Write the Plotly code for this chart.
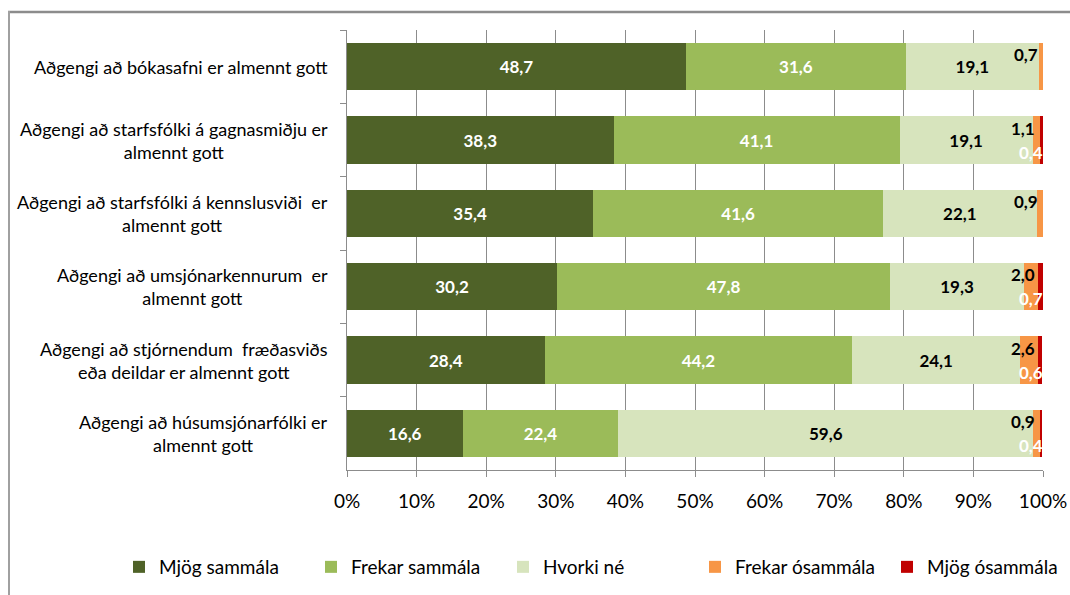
import plotly.graph_objects as go

categories = [
    "Aðgengi að bókasafni er almennt gott",
    "Aðgengi að starfsfólki á gagnasmiðju er<br>almennt gott",
    "Aðgengi að starfsfólki á kennslusviði  er<br>almennt gott",
    "Aðgengi að umsjónarkennurum  er<br>almennt gott",
    "Aðgengi að stjórnendum  fræðasviðs<br>eða deildar er almennt gott",
    "Aðgengi að húsumsjónarfólki er<br>almennt gott",
]
series_names = ["Mjög sammála", "Frekar sammála", "Hvorki né", "Frekar ósammála", "Mjög ósammála"]
mjog_sammala = [48.7, 38.3, 35.4, 30.2, 28.4, 16.6]
frekar_sammala = [31.6, 41.1, 41.6, 47.8, 44.2, 22.4]
hvorki_ne = [19.1, 19.1, 22.1, 19.3, 24.1, 59.6]
frekar_osammala = [0.7, 1.1, 0.9, 2.0, 2.6, 0.9]
mjog_osammala = [0.0, 0.4, 0.0, 0.7, 0.6, 0.4]
x_ticks = [0, 10, 20, 30, 40, 50, 60, 70, 80, 90, 100]
x_tick_labels = [f"{v}%" for v in x_ticks]

colors = ["#4f6228", "#9bbb59", "#d7e4bd", "#f79646", "#c00000"]
text_colors = ["white", "white", "black", "black", "white"]
values = [mjog_sammala, frekar_sammala, hvorki_ne, frekar_osammala, mjog_osammala]

FONT = "Lato"

def fmt(v):
    return f"{v:.1f}".replace(".", ",")

fig = go.Figure()
for i, (name, vals) in enumerate(zip(series_names, values)):
    show_text = i < 3
    fig.add_trace(go.Bar(
        y=categories, x=vals, name=name, orientation="h",
        marker=dict(color=colors[i], line=dict(width=0)),
        text=[f"<b>{fmt(v)}</b>" for v in vals] if show_text else None,
        textposition="inside" if show_text else "none",
        insidetextanchor="middle",
        textangle=0,
        textfont=dict(family=FONT, size=17, color=text_colors[i]),
        hoverinfo="skip",
    ))

annotations = []
for cat, fo, mo in zip(categories, frekar_osammala, mjog_osammala):
    annotations.append(dict(
        x=100, y=cat, xref="x", yref="y", text=f"<b>{fmt(fo)}</b>",
        showarrow=False, xanchor="right", yanchor="middle", yshift=12,
        xshift=-3 if mo == 0 else -6,
        font=dict(family=FONT, size=17, color="black"),
    ))
    if mo > 0:
        annotations.append(dict(
            x=100, y=cat, xref="x", yref="y", text=f"<b>{fmt(mo)}</b>",
            showarrow=False, xanchor="right", yanchor="middle", yshift=-12,
            xshift=2,
            font=dict(family=FONT, size=17, color="white"),
        ))
for cat in categories:
    annotations.append(dict(
        x=0, y=cat, xref="paper", yref="y", text=cat, showarrow=False,
        xanchor="right", yanchor="middle", xshift=-17, align="center",
        font=dict(family=FONT, size=18, color="black"),
    ))

PX_W, PX_H = 696, 440
def px_x(p):
    return (p - 347) / PX_W
def px_y(p):
    return (470 - p) / PX_H

fig.update_layout(
    barmode="stack",
    bargap=0.355,
    width=1070, height=595,
    margin=dict(l=347, r=27, t=30, b=125, autoexpand=False),
    paper_bgcolor="white", plot_bgcolor="white",
    font=dict(family=FONT, size=16, color="black"),
    annotations=annotations,
    legend=dict(
        orientation="h", xref="paper", yref="paper",
        x=px_x(119), xanchor="left", y=px_y(567), yanchor="middle",
        font=dict(family=FONT, size=19, color="black"),
        traceorder="normal", entrywidth=147, itemwidth=30,
    ),
    xaxis=dict(
        range=[0, 100], tickvals=x_ticks, ticktext=x_tick_labels,
        showgrid=True, gridcolor="#8c8c8c", gridwidth=1,
        showline=True, linecolor="#8c8c8c", linewidth=1,
        ticks="outside", ticklen=6, tickcolor="#8c8c8c",
        ticklabelstandoff=8, zeroline=False,
        tickfont=dict(family=FONT, size=19, color="black"),
        fixedrange=True,
    ),
    yaxis=dict(
        autorange="reversed", showticklabels=False,
        showline=True, linecolor="#8c8c8c", linewidth=1,
        ticks="outside", ticklen=6, tickcolor="#8c8c8c", tickson="boundaries",
        showgrid=False, fixedrange=True,
    ),
    shapes=[
        dict(type="line", xref="paper", yref="paper", layer="below",
             x0=px_x(8), x1=px_x(1070),
             y0=px_y(12), y1=px_y(12),
             line=dict(width=2.5, color="#8c8c8c")),
        dict(type="rect", xref="paper", yref="paper", layer="above",
             x0=px_x(8), x1=px_x(10),
             y0=px_y(11), y1=px_y(595),
             line=dict(width=0), fillcolor="#a0a0a0"),
    ],
)

fig.write_html("out.html", config={"displayModeBar": False})
with open("out.html", "r", encoding="utf-8") as f:
    html = f.read()
html = html.replace("<head>", "<head><style>body{margin:0;overflow:hidden}</style>", 1)
with open("out.html", "w", encoding="utf-8") as f:
    f.write(html)
